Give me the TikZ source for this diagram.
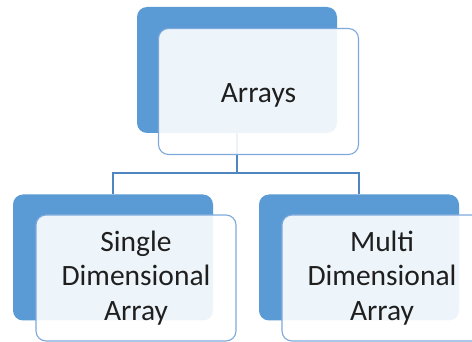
\documentclass[tikz,border=0pt]{standalone}
\usepackage{fontspec}
\setmainfont{Carlito}
\definecolor{boxblue}{HTML}{5B9BD5}
\definecolor{edgeblue}{HTML}{7EA9DC}
\definecolor{linkblue}{HTML}{4F86C0}
\definecolor{textgray}{HTML}{1F1F1F}
\tikzset{
  backbox/.style={fill=boxblue, rounded corners=10pt, minimum width=200pt,
    minimum height=126pt, inner sep=0pt, outer sep=0pt},
  frontbox/.style={draw=edgeblue, line width=1.1pt, fill=white, fill opacity=0.9,
    text opacity=1, text=textgray, rounded corners=10pt, minimum width=200pt,
    minimum height=126pt, inner sep=0pt, outer sep=0pt, align=center,
    font=\fontsize{29.5}{34.5}\selectfont},
  link/.style={draw=linkblue, line width=1.2pt}
}
\begin{document}
\begin{tikzpicture}[x=1pt,y=-1pt]
        \clip (0,0) rectangle (472,342);
        \fill[white] (0,0) rectangle (472,342);
        \node[backbox] (arr) at (237,70) {};
        \node[backbox] (single) at (113,257.5) {};
        \node[backbox] (multi) at (359,257.5) {};
        \draw[link] (arr.south) -- ++(0,40) coordinate (split);
        \draw[link] (split) -| (single.north);
        \draw[link] (split) -| (multi.north);
        \node[frontbox] (arrF) at (258.5,91.5) {\raisebox{-4pt}[\height][\depth]{Arrays}};
        \node[frontbox] (singleF) at (136,278) {Single\\Dimensional\\Array};
        \node[frontbox] (multiF) at (382,278) {Multi\\Dimensional\\Array};
    \end{tikzpicture}
\end{document}
